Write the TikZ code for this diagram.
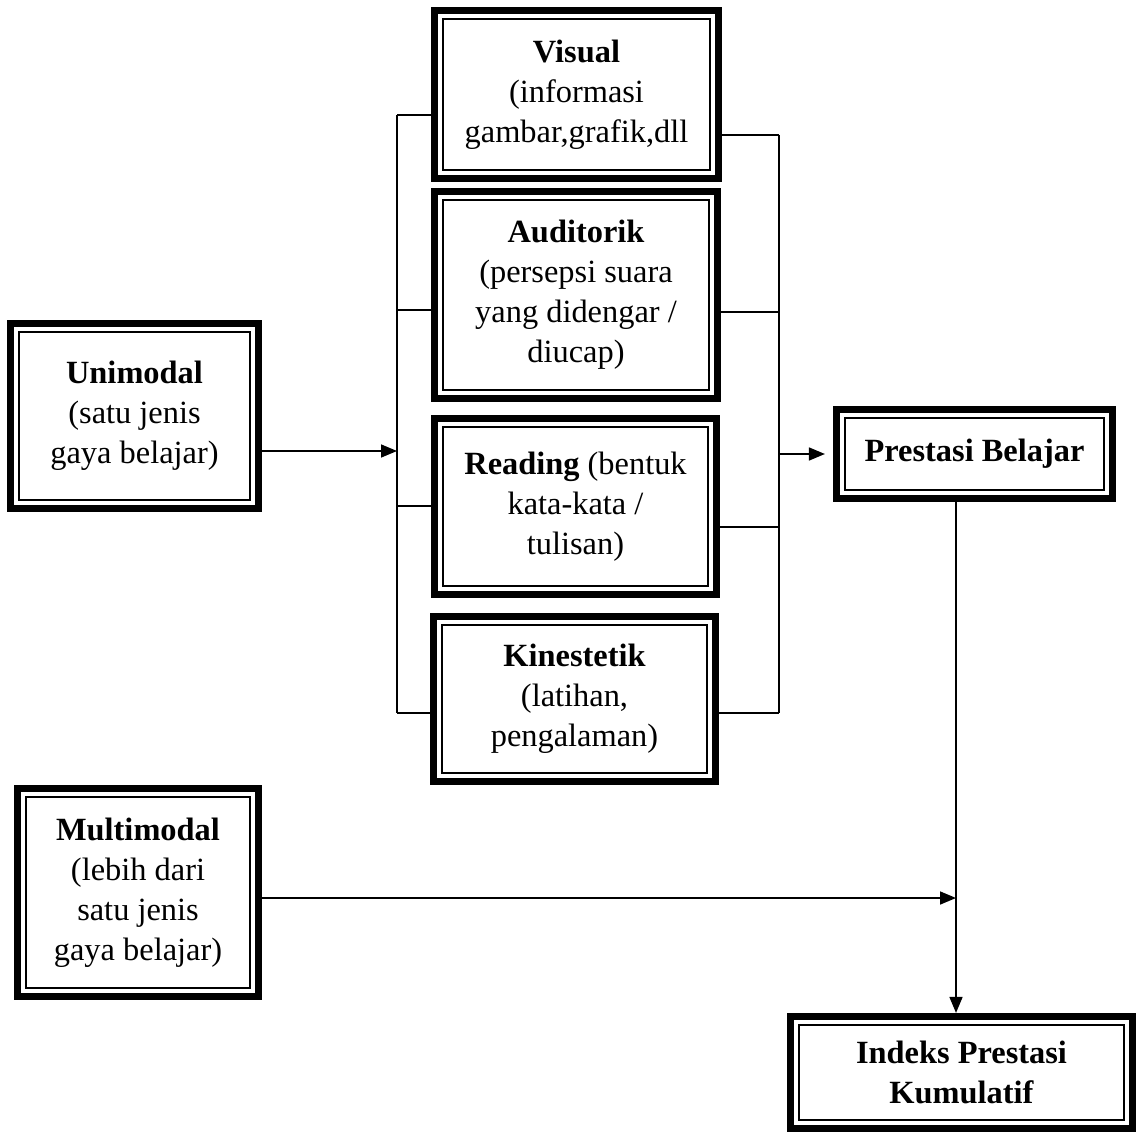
\documentclass[tikz,border=0pt]{standalone}
\usepackage{fontspec}
\setmainfont{Liberation Serif}
\usetikzlibrary{arrows.meta}

\tikzset{
  gaya/.style={draw, line width=3.6pt, fill=white, align=center, inner sep=2pt,
    font=\fontsize{16.2}{20}\selectfont,
    path picture={\draw[line width=0.9pt]
      ([shift={(4.4pt,4.4pt)}]path picture bounding box.south west) rectangle
      ([shift={(-4.4pt,-4.4pt)}]path picture bounding box.north east);}},
  garis/.style={line width=0.8pt},
  panah/.style={line width=0.8pt, -{Triangle[length=8pt,width=6.5pt]}}
}

\begin{document}
\begin{tikzpicture}[x=0.5pt, y=-0.5pt]
		\useasboundingbox (0,0) rectangle (1137,1138);

		\draw (134.5,416) node [gaya, minimum width=124pt, minimum height=92.5pt] (uni)
			{\textbf{Unimodal}\\(satu jenis\\gaya belajar)};
		\draw (138,892.5) node [gaya, minimum width=120.5pt, minimum height=104pt] (mul)
			{\textbf{Multimodal}\\(lebih dari\\satu jenis\\gaya belajar)};

		\draw (576.5,94.5) node [gaya, minimum width=142pt, minimum height=84pt] (vis)
			{\textbf{Visual}\\(informasi\\gambar,grafik,dll};
		\draw (576,295) node [gaya, minimum width=141.5pt, minimum height=103.5pt] (aud)
			{\textbf{Auditorik}\\(persepsi suara\\yang didengar /\\diucap)};
		\draw (575.5,506.5) node [gaya, minimum width=141pt, minimum height=88pt] (rea)
			{\textbf{Reading} (bentuk\\kata-kata /\\tulisan)};
		\draw (574.5,699) node [gaya, minimum width=141pt, minimum height=82.5pt] (kin)
			{\textbf{Kinestetik}\\(latihan,\\pengalaman)};

		\draw (974.5,454) node [gaya, minimum width=138pt, minimum height=44.5pt] (pre)
			{\textbf{Prestasi Belajar}};
		\draw (961.5,1072.5) node [gaya, minimum width=171pt, minimum height=56pt] (ind)
			{\textbf{Indeks Prestasi}\\\textbf{Kumulatif}};

		\coordinate (lb) at (397,451);
		\coordinate (rb) at (779,454);
		\coordinate (j) at (956,898);

		% kiri
		\draw[garis] (lb |- 0,115) -- (lb |- 0,713);
		\draw[garis]
		(lb |- 0,115) -- (vis.west |- 0,115)
		(lb |- 0,310) -- (aud.west |- 0,310)
		(lb |- 0,506) -- (rea.west |- 0,506)
		(lb |- 0,713) -- (kin.west |- 0,713);

		% kanan
		\draw[garis] (rb |- 0,135) -- (rb |- 0,713);
		\draw[garis]
		(vis.east |- 0,135) -- (rb |- 0,135)
		(aud.east |- 0,312) -- (rb |- 0,312)
		(rea.east |- 0,527) -- (rb |- 0,527)
		(kin.east |- 0,713) -- (rb |- 0,713);

		\draw[panah] (uni.east |- lb) -- (lb);
		\draw[panah, shorten >=4pt] (rb) -- (pre.west);
		\draw[panah] (pre.south -| j) -- (ind.north -| j);
		\draw[panah] (mul.east |- j) -- (j);
	\end{tikzpicture}
\end{document}
